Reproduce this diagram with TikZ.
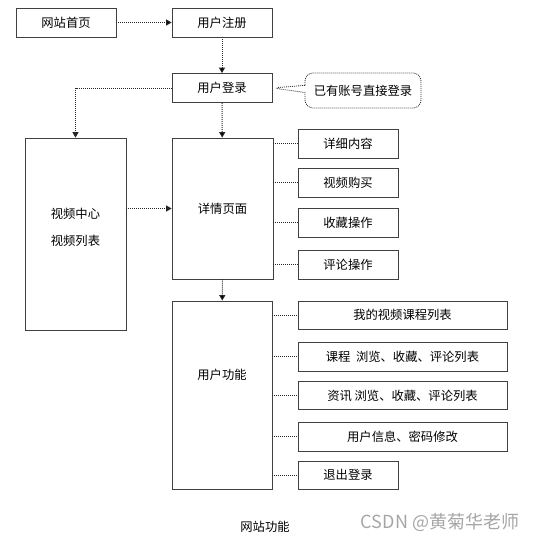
\documentclass[tikz,border=0pt]{standalone}
\usepackage{fontspec}
\newfontfamily\cjk{Noto Sans CJK SC}
\usetikzlibrary{arrows.meta, shapes.callouts}

\begin{document}
\begin{tikzpicture}[> = {Triangle[length=5.5pt, width=6pt]}, % arrow head style
    x = 1pt, y = -1pt, % one unit is one pixel of the page
    line width = 0.8pt % line style
  ]

  \tikzstyle{every node}=[font=\cjk\fontsize{12.3}{14}\selectfont, inner sep=0pt]
  \tikzstyle{box}=[draw=black!75, minimum width=100, minimum height=29]
  \tikzstyle{widebox}=[box, minimum width=209]
  \tikzstyle{link}=[draw=black!85, line width=1pt, dash pattern=on 1pt off 1pt]

  \useasboundingbox (0,0) rectangle (541,542);

  % top row
  \node (home) [box] at (66,22.5) {网站首页};
  \node (reg) [box] at (222,22.5) {用户注册};
  \node (login) [box] at (222,88) {用户登录};
  \node (hint) [draw=black!80, dash pattern=on 1pt off 1pt, rectangle callout,
    rounded corners=8pt, minimum width=116, minimum height=35,
    callout absolute pointer={(login.east)}] at (363,90.5) {已有账号直接登录};

  % middle column
  \node (video) [box, minimum width=101, minimum height=192] at (75.5,234) {};
  \node (videoText) [align=center] at (75.5,227.5) {视频中心\\[13pt]视频列表};
  \node (detail) [box, minimum width=101, minimum height=141] at (222.5,208.5) {详情页面};
  \node (userfn) [box, minimum height=188] at (222,395) {};
  \node (userfnText) at (222,375) {用户功能};

  % detail items
  \node (d1) [box] at (348,143.5) {详细内容};
  \node (d2) [box] at (348,182.5) {视频购买};
  \node (d3) [box] at (348,222.5) {收藏操作};
  \node (d4) [box] at (348,264.5) {评论操作};

  % user items
  \node (u1) [widebox, minimum height=28] at (402.5,315) {我的视频课程列表};
  \node (u2) [widebox] at (402.5,356.5) {课程\ \ 浏览、收藏、评论列表};
  \node (u3) [widebox, minimum height=28] at (402.5,395.5) {资讯\ 浏览、收藏、评论列表};
  \node (u4) [widebox] at (402.5,436.5) {用户信息、密码修改};
  \node (u5) [box, minimum height=28] at (348,475) {退出登录};

  \node (caption) at (265,527) {网站功能};
  \node (mark) [text=black!35, font=\cjk\fontsize{18}{20}\selectfont] at (440,522) {CSDN @黄菊华老师};

  \path[link, ->] (home) edge (reg); \path[link, ->] (reg) edge (login);
  \path[link, ->] (login) edge (detail); \path[link, ->] (detail) edge (userfn);
  \draw[link, ->] (login.west) -| (video.north);
  \draw[link, ->] (video.east |- detail.west) -- (detail.west);

  \foreach \d in {d1, d2, d3, d4} {
    \draw[link] (detail.east |- \d.west) -- (\d.west);
  }
  \foreach \u in {u1, u2, u3, u4, u5} {
    \draw[link] (userfn.east |- \u.west) -- (\u.west);
  }
\end{tikzpicture}
\end{document}
